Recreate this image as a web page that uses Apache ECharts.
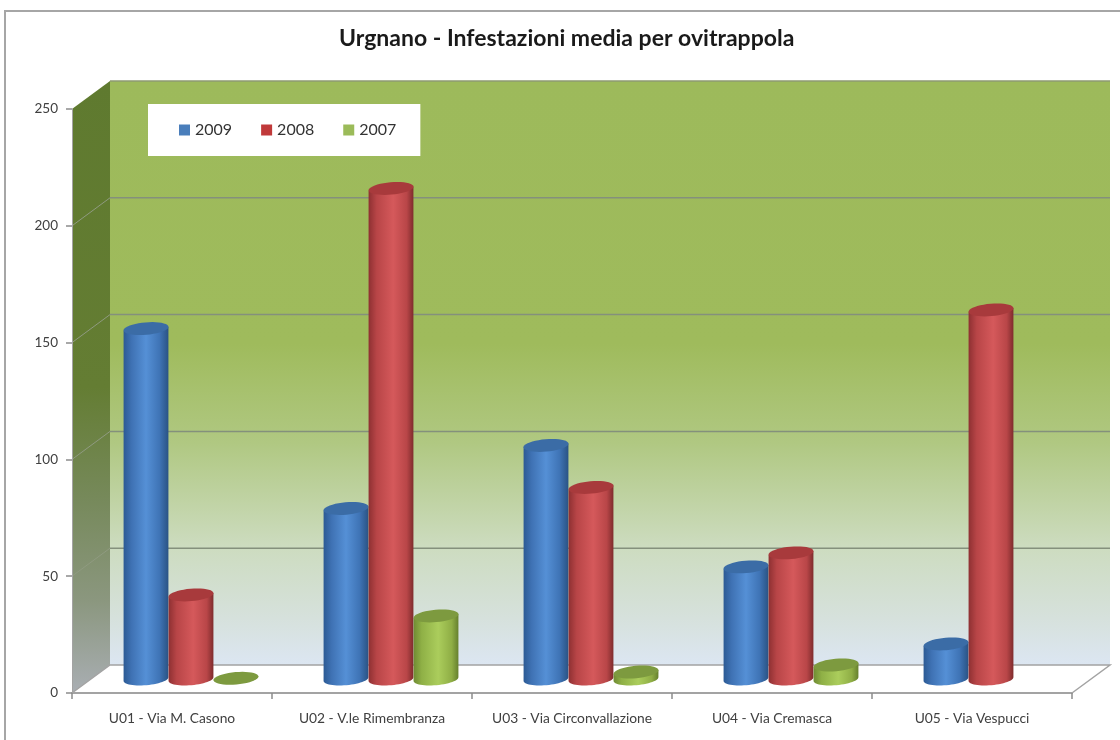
<!DOCTYPE html>
<html>
<head>
<meta charset="utf-8">
<style>html,body{margin:0;padding:0;background:#fff}#c{width:1120px;height:740px}</style>
<script src="https://cdn.jsdelivr.net/npm/echarts@6/dist/echarts.min.js"></script>
</head>
<body>
<div id="c"></div>
<script>
var titleText = 'Urgnano - Infestazioni media per ovitrappola';
var categories = ['U01 - Via M. Casono','U02 - V.le Rimembranza','U03 - Via Circonvallazione','U04 - Via Cremasca','U05 - Via Vespucci'];
var years = ['2009','2008','2007'];
var values2009 = [150, 73, 100, 48, 15];
var values2008 = [36, 210, 82, 54, 158];
var values2007 = [0.3, 27, 3, 6, null];
var yTicks = [0, 50, 100, 150, 200, 250];

var DEPTH_X = 38, DEPTH_Y = -28;
var BAR_SHARE = 0.225, RY = 6.2, TILT = 5 * Math.PI / 180;

function shade(stops){
  return new echarts.graphic.LinearGradient(0,0,1,0,stops.map(function(s){ return {offset:s[0], color:s[1]}; }));
}
var palettes = [
  {legend:'#4a7ebb', top:'#3b6ca6', body:[[0,'#2c5a94'],[0.18,'#3f72b4'],[0.5,'#5590d6'],[0.8,'#3f74b6'],[1,'#2a5384']]},
  {legend:'#c0393a', top:'#a83a3c', body:[[0,'#8e3032'],[0.18,'#b84547'],[0.55,'#d5595b'],[0.85,'#b94648'],[1,'#7f2c2d']]},
  {legend:'#9bbb59', top:'#7d9a3f', body:[[0,'#6f8b33'],[0.18,'#8fb046'],[0.55,'#abcd5c'],[0.85,'#8fae45'],[1,'#66802e']]}
];

function ellipsePoint(cx, cy, rx, t){
  var ex = rx * Math.cos(t), ey = RY * Math.sin(t);
  return [cx + ex * Math.cos(TILT) + ey * Math.sin(TILT), cy - ex * Math.sin(TILT) + ey * Math.cos(TILT)];
}
function ellipseArc(cx, cy, rx, from, to, n){
  var pts = [];
  for (var i = 0; i <= n; i++) pts.push(ellipsePoint(cx, cy, rx, from + (to - from) * i / n));
  return pts;
}

function cylinderSeries(name, data, index){
  var pal = palettes[index];
  return {
    name: name, type: 'custom', z: 5,
    itemStyle: {color: pal.legend},
    encode: {x: 0, y: 1},
    data: data.map(function(v, i){ return [i, v]; }),
    renderItem: function(params, api){
      if (api.value(1) == null || isNaN(api.value(1))) return;
      var top = api.coord([api.value(0), api.value(1)]);
      var base = api.coord([api.value(0), 0]);
      var band = api.size([1, 0])[0];
      var w = band * BAR_SHARE;
      var cx = top[0] + DEPTH_X / 2 + (index - 1) * w;
      var by = base[1] + DEPTH_Y / 2;
      var ty = top[1] + DEPTH_Y / 2;
      var rx = w / 2;
      var children = [];
      if (by - ty > 1) {
        var body = ellipseArc(cx, ty, rx, Math.PI, 0, 1).concat(ellipseArc(cx, by, rx, 0, Math.PI, 28));
        children.push({type:'polygon', shape:{points:body}, style:{fill:shade(pal.body)}});
      }
      children.push({type:'polygon', shape:{points:ellipseArc(cx, ty, rx, 0, Math.PI * 2, 40)}, style:{fill:pal.top}});
      return {type:'group', children:children};
    }
  };
}

// Walls and floor, positioned through the value axis
var wallSeries = {
  type:'custom', silent:true, z:1, data:[[0]],
  renderItem: function(params, api){
    var x0 = params.coordSys.x, x1 = x0 + params.coordSys.width;
    var y0 = api.coord([0, yTicks[0]])[1];
    var yT = api.coord([0, yTicks[yTicks.length - 1]])[1];
    var bx0 = x0 + DEPTH_X, bx1 = x1 + DEPTH_X;
    return {type:'group', children:[
      {type:'polygon', shape:{points:[[bx0,yT+DEPTH_Y],[bx1,yT+DEPTH_Y],[bx1,y0+DEPTH_Y],[bx0,y0+DEPTH_Y]]},
       style:{fill:new echarts.graphic.LinearGradient(0,0,0,1,[
         {offset:0,color:'#9dba5b'},{offset:0.45,color:'#9fbb5c'},{offset:0.62,color:'#b0c882'},
         {offset:0.8,color:'#cddcc0'},{offset:0.92,color:'#d6e1dc'},{offset:1,color:'#dce6f2'}])}},
      {type:'polygon', shape:{points:[[x0,yT],[bx0,yT+DEPTH_Y],[bx0,y0+DEPTH_Y],[x0,y0]]},
       style:{fill:new echarts.graphic.LinearGradient(0,0,0,1,[
         {offset:0,color:'#5f7a2f'},{offset:0.5,color:'#647d33'},{offset:0.68,color:'#76895a'},
         {offset:0.85,color:'#8b977f'},{offset:1,color:'#a9aeb3'}])}},
      {type:'polygon', shape:{points:[[x0,y0],[bx0,y0+DEPTH_Y],[bx1,y0+DEPTH_Y],[x1,y0]]}, style:{fill:'#ffffff'}},
      {type:'line', shape:{x1:bx0,y1:yT+DEPTH_Y,x2:bx1,y2:yT+DEPTH_Y}, style:{stroke:'#8e9a72',lineWidth:1.5}},
      {type:'polyline', shape:{points:[[x0,y0],[bx0,y0+DEPTH_Y],[bx1,y0+DEPTH_Y],[x1,y0]]}, style:{stroke:'#a3a3a3',lineWidth:1.5,fill:null}}
    ]};
  }
};

var gridSeries = {
  type:'custom', silent:true, z:2,
  encode:{y:1},
  data: yTicks.slice(1, -1).map(function(t){ return [0, t]; }),
  renderItem: function(params, api){
    var x0 = params.coordSys.x, x1 = x0 + params.coordSys.width;
    var y = api.coord([0, api.value(1)])[1];
    return {type:'group', children:[
      {type:'line', shape:{x1:x0,y1:y,x2:x0+DEPTH_X,y2:y+DEPTH_Y}, style:{stroke:'#8f9a80',lineWidth:1}},
      {type:'line', shape:{x1:x0+DEPTH_X,y1:y+DEPTH_Y,x2:x1+DEPTH_X,y2:y+DEPTH_Y}, style:{stroke:'#84907c',lineWidth:1.5}}
    ]};
  }
};

var FONT = 'Lato, "Open Sans", sans-serif';
var chart = echarts.init(document.getElementById('c'), null, {renderer:'canvas'});
chart.setOption({
  animation:false,
  backgroundColor:'#ffffff',
  graphic:[{type:'rect', z:-1, shape:{x:5,y:11,width:1130,height:740}, style:{fill:'#fff',stroke:'#a6a6a6',lineWidth:2}}],
  title:{text:titleText, left:334, top:22, textStyle:{fontFamily:FONT,fontWeight:'bold',fontSize:23,color:'#1a1a1a'}},
  legend:{data:years, left:148, top:104, orient:'horizontal', backgroundColor:'#ffffff', borderRadius:0,
    padding:[18,24,18,31], itemWidth:11, itemHeight:11, itemGap:29, icon:'rect',
    textStyle:{fontFamily:FONT,fontSize:16,color:'#333'}},
  grid:{left:72, top:109, width:1000, height:584, containLabel:false},
  xAxis:{type:'category', data:categories, boundaryGap:true, z:6,
    axisLine:{lineStyle:{color:'#a3a3a3',width:2}},
    axisTick:{show:true,length:6,lineStyle:{color:'#8c8c8c',width:1.5}},
    axisLabel:{margin:19,fontFamily:FONT,fontSize:13.8,color:'#404040',interval:0},
    splitLine:{show:false}},
  yAxis:{type:'value', min:0, max:250, interval:50, z:6,
    axisLine:{show:true,lineStyle:{color:'#a3a3a3',width:1}},
    axisTick:{show:true,length:6,lineStyle:{color:'#8c8c8c',width:1.5}},
    axisLabel:{margin:14,fontFamily:FONT,fontSize:13.5,color:'#404040'},
    splitLine:{show:false}},
  series:[wallSeries, gridSeries,
    cylinderSeries(years[0], values2009, 0),
    cylinderSeries(years[1], values2008, 1),
    cylinderSeries(years[2], values2007, 2)]
});
</script>
</body>
</html>
